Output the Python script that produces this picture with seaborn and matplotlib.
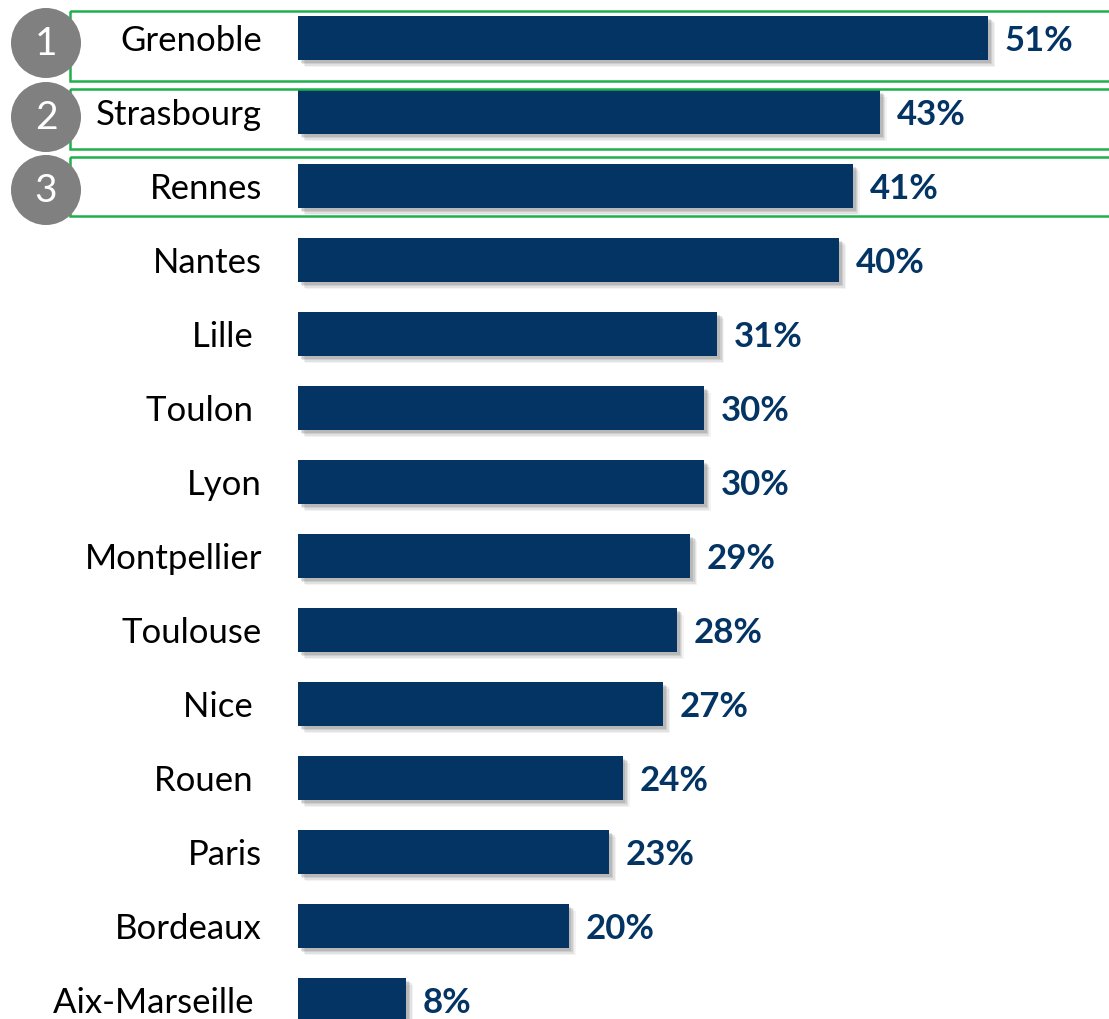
import matplotlib
matplotlib.use("Agg")
import matplotlib.pyplot as plt
import matplotlib.patheffects as pe
from matplotlib.patches import Circle, Rectangle
import seaborn as sns
import pandas as pd

# Share of respondents per city (%)
cities = ["Grenoble", "Strasbourg", "Rennes", "Nantes", "Lille ", "Toulon ", "Lyon",
          "Montpellier", "Toulouse", "Nice ", "Rouen ", "Paris", "Bordeaux", "Aix-Marseille "]
shares = [51, 43, 41, 40, 31, 30, 30, 29, 28, 27, 24, 23, 20, 8]
ranks = ["1", "2", "3"]

BAR = "#033463"
GREEN = "#1fb04c"
GREY = "#808080"

sns.set_theme(style="white")
plt.rcParams["font.family"] = ["Lato", "DejaVu Sans"]

df = pd.DataFrame({"city": cities, "share": shares})

W, H = 1109, 1019
fig = plt.figure(figsize=(W / 100, H / 100), dpi=100)

# main bar axes: value 0 at x=298px, 13.53 px per percent; row i centred at 38 + 74*i px
x0 = 298
ax = fig.add_axes([x0 / W, 0, 1 - x0 / W, 1])
sns.barplot(data=df, y="city", x="share", orient="h", color=BAR, width=0.6,
            saturation=1, linewidth=0, ax=ax)
ax.set_xlim(0, (W - x0) / 13.53)
ax.set_ylim((H - 38) / 74, -38 / 74)
ax.set_xlabel("")
ax.set_ylabel("")
ax.set_xticks([])
for s in ax.spines.values():
    s.set_visible(False)
ax.patch.set_alpha(0)
ax.tick_params(axis="y", length=0, pad=26, labelsize=25, labelcolor="black")
for lab in ax.get_yticklabels():
    lab.set_va("center_baseline")

# soft drop shadow below and to the right of each bar
shadow = [pe.SimplePatchShadow(offset=(o, -o), shadow_rgbFace=(0.4, 0.4, 0.4), alpha=a)
          for o, a in [(5, 0.08), (4, 0.12), (3, 0.16), (2, 0.2)]] + [pe.Normal()]
for bar in ax.patches:
    bar.set_path_effects(shadow)

for cont in ax.containers:
    texts = ax.bar_label(cont, labels=[f"{v}%" for v in shares], padding=12,
                         fontsize=25, fontweight="bold", color=BAR)
    for t in texts:
        t.set_va("center_baseline")

# overlay in pixel coordinates for the podium boxes and rank badges
ov = fig.add_axes([0, 0, 1, 1], zorder=5)
ov.set_xlim(0, W)
ov.set_ylim(H, 0)
ov.axis("off")
ov.patch.set_alpha(0)

boxes = [(11, 81), (89, 149), (157, 216)]
for top, bottom in boxes:
    ov.add_patch(Rectangle((70, top), W - 70 + 10, bottom - top, fill=False,
                           edgecolor=GREEN, linewidth=1.8))

centres = [43, 117, 190]
for r, cy in zip(ranks, centres):
    ov.add_patch(Circle((46, cy), 35, facecolor=GREY, edgecolor="none", zorder=3))
    ov.text(46, cy + 1, r, color="white", fontsize=28, fontweight="normal",
            ha="center", va="center", zorder=4)

fig.savefig("out.png", dpi=100)
